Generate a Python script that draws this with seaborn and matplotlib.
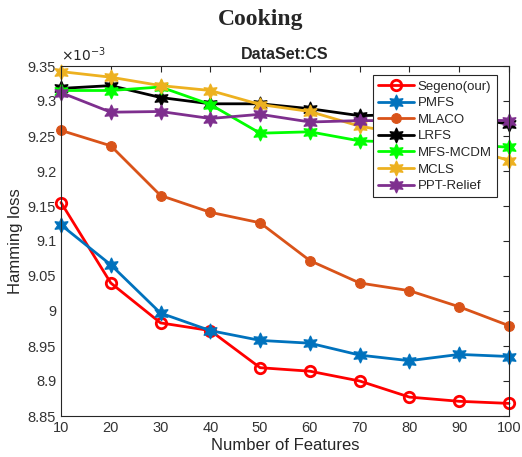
import matplotlib
matplotlib.use("Agg")
import matplotlib.pyplot as plt
import seaborn as sns
import pandas as pd

sns.set_style("white")
plt.rcParams['font.family'] = ['Liberation Sans', 'DejaVu Sans']

features = [10, 20, 30, 40, 50, 60, 70, 80, 90, 100]
segeno = [9.155, 9.040, 8.983, 8.972, 8.919, 8.914, 8.900, 8.877, 8.871, 8.868]
pmfs = [9.123, 9.066, 8.997, 8.972, 8.958, 8.954, 8.937, 8.929, 8.938, 8.935]
mlaco = [9.258, 9.236, 9.165, 9.141, 9.126, 9.072, 9.040, 9.029, 9.006, 8.979]
lrfs = [9.318, 9.322, 9.305, 9.296, 9.296, 9.289, 9.279, 9.281, 9.278, 9.267]
mfs_mcdm = [9.315, 9.315, 9.320, 9.295, 9.254, 9.256, 9.243, 9.241, 9.238, 9.234]
mcls = [9.342, 9.334, 9.322, 9.315, 9.295, 9.285, 9.264, 9.252, 9.236, 9.215]
ppt_relief = [9.312, 9.284, 9.285, 9.275, 9.281, 9.270, 9.272, 9.272, 9.273, 9.272]

names = ['Segeno(our)', 'PMFS', 'MLACO', 'LRFS', 'MFS-MCDM', 'MCLS', 'PPT-Relief']
series = [segeno, pmfs, mlaco, lrfs, mfs_mcdm, mcls, ppt_relief]
colors = ['#FF0000', '#0072BD', '#D95319', '#000000', '#00FF00', '#EDB120', '#7E2F8E']
star6 = (6, 1, 0)
markers = ['o', star6, 'o', star6, star6, star6, star6]
msizes = [7.5, 11, 7, 11, 11, 11, 11]

fig = plt.figure(figsize=(5.22, 4.57), dpi=100)
ax = fig.add_axes([61/522, 1 - 416/457, 448/522, 350/457])

for name, vals, c, m, ms in zip(names, series, colors, markers, msizes):
    df = pd.DataFrame({'x': features, 'y': vals})
    kw = dict(marker=m, markersize=ms, color=c, linewidth=2, label=name, ax=ax, clip_on=False)
    if name == 'Segeno(our)':
        kw.update(markerfacecolor='none', markeredgecolor=c, markeredgewidth=2)
    else:
        kw.update(markerfacecolor=c, markeredgecolor=c, markeredgewidth=0.8)
    sns.lineplot(data=df, x='x', y='y', **kw)

ax.set_xlim(10, 100)
ax.set_ylim(8.85, 9.35)
ax.set_xticks(features)
ax.set_xticklabels([str(f) for f in features])
yt = [8.85, 8.9, 8.95, 9.0, 9.05, 9.1, 9.15, 9.2, 9.25, 9.3, 9.35]
ax.set_yticks(yt)
ax.set_yticklabels(['8.85', '8.9', '8.95', '9', '9.05', '9.1', '9.15', '9.2', '9.25', '9.3', '9.35'])
ax.tick_params(direction='in', length=4, top=True, right=True, labelsize=10.5, colors='#262626',
               labelcolor='#333333', width=0.8)
for s in ax.spines.values():
    s.set_visible(True)
    s.set_color('#262626')
    s.set_linewidth(0.8)
ax.set_xlabel('Number of Features', fontsize=12, color='#262626', labelpad=2)
ax.set_ylabel('Hamming loss', fontsize=12, color='#262626', labelpad=3)
ax.set_title('DataSet:CS', fontsize=11.5, fontweight='bold', color='#262626', pad=5)
ax.text(0.0, 1.005, r'$\times10^{-3}$', transform=ax.transAxes, fontsize=10, color='#262626',
        ha='left', va='bottom')
fig.text(0.5, 1 - 20/457, 'Cooking', fontsize=17, fontweight='bold', family=['Liberation Serif'],
         color='#262626', ha='center', va='center')

leg = ax.legend(loc='upper right', bbox_to_anchor=(0.973, 0.974), fontsize=9.5, frameon=True,
                fancybox=False, edgecolor='#262626', framealpha=1, handlelength=2.7, borderpad=0.4,
                labelspacing=0.33, handletextpad=0.3, borderaxespad=0.0)
leg.get_frame().set_linewidth(0.8)

fig.savefig('out.png', dpi=100)
